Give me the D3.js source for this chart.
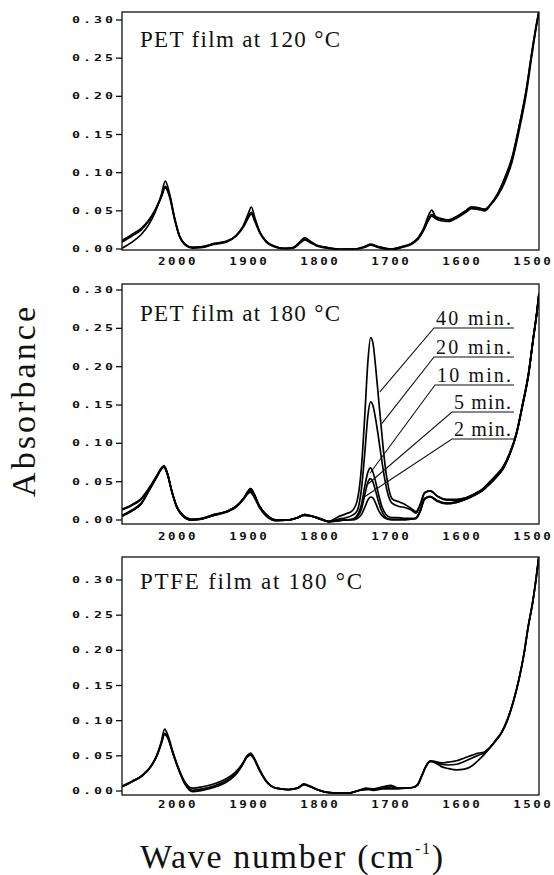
<!DOCTYPE html>
<html lang="en">
<head>
<meta charset="UTF-8" />
<title>IR absorbance of heated films</title>
<style>
  html, body {
    margin: 0;
    padding: 0;
    background: #fff;
  }
  svg { display: block; }
  .frame { fill: none; stroke: #111; stroke-width: 1.3px; }
  .spec { fill: none; stroke: #000; stroke-width: 1.7px; stroke-linejoin: round; }
  .tick line { stroke: #111; stroke-width: 1.3px; }
  .tick text {
    font-family: "DejaVu Sans Mono", monospace;
    font-weight: bold;
    fill: #111;
  }
  .title, .tag, .axis-title {
    font-family: "Liberation Serif", "Times New Roman", serif;
    fill: #111;
  }
  .leader { stroke: #111; stroke-width: 1.1px; fill: none; }
</style>
</head>
<body>
<svg width="554" height="875"></svg>

<script src="https://d3js.org/d3.v7.min.js"></script>
<script>
// ---- data ----
const WN_TICKS = [2000, 1900, 1800, 1700, 1600, 1500];
const ABS_TICKS = [0, 0.05, 0.10, 0.15, 0.20, 0.25, 0.30];

// PET film at 120 °C
const P1_WN = [2079, 2065, 2052, 2042, 2032, 2024, 2018, 2012, 2005, 1998, 1990, 1980, 1965, 1950, 1932, 1918, 1908, 1901, 1897, 1892, 1885, 1876, 1865, 1850, 1838, 1828, 1822, 1815, 1805, 1790, 1770, 1750, 1738, 1729, 1718, 1700, 1685, 1672, 1662, 1654, 1648, 1643, 1638, 1630, 1620, 1607, 1595, 1587, 1578, 1568, 1560, 1550, 1540, 1530, 1520, 1510, 1502, 1496, 1492];
const P1_A = [0.011, 0.019, 0.027, 0.037, 0.052, 0.068, 0.082, 0.070, 0.040, 0.017, 0.006, 0.002, 0.003, 0.007, 0.010, 0.018, 0.030, 0.043, 0.048, 0.038, 0.022, 0.010, 0.004, 0.001, 0.002, 0.009, 0.013, 0.010, 0.005, 0.002, 0.000, 0.000, 0.003, 0.006, 0.003, 0.000, 0.003, 0.007, 0.014, 0.026, 0.038, 0.045, 0.042, 0.039, 0.038, 0.043, 0.050, 0.055, 0.054, 0.052, 0.059, 0.072, 0.092, 0.118, 0.160, 0.208, 0.258, 0.292, 0.312];
const P1_B = [0.009, 0.017, 0.025, 0.036, 0.051, 0.067, 0.080, 0.068, 0.039, 0.016, 0.005, 0.001, 0.002, 0.006, 0.009, 0.017, 0.029, 0.041, 0.046, 0.036, 0.021, 0.009, 0.003, 0.000, 0.001, 0.008, 0.012, 0.009, 0.004, 0.001, -0.001, 0.000, 0.002, 0.005, 0.002, -0.001, 0.002, 0.006, 0.013, 0.025, 0.037, 0.043, 0.040, 0.037, 0.036, 0.041, 0.048, 0.053, 0.052, 0.050, 0.058, 0.073, 0.094, 0.120, 0.161, 0.208, 0.258, 0.292, 0.312];
const P1_C = [0.001, 0.009, 0.019, 0.031, 0.049, 0.070, 0.089, 0.072, 0.041, 0.017, 0.006, 0.002, 0.003, 0.007, 0.010, 0.018, 0.031, 0.047, 0.055, 0.041, 0.022, 0.010, 0.004, 0.001, 0.002, 0.010, 0.015, 0.011, 0.005, 0.002, 0.000, 0.000, 0.003, 0.006, 0.003, 0.000, 0.003, 0.007, 0.015, 0.028, 0.043, 0.051, 0.043, 0.040, 0.038, 0.043, 0.050, 0.055, 0.054, 0.052, 0.058, 0.070, 0.088, 0.114, 0.155, 0.203, 0.254, 0.290, 0.310];

// PET film at 180 °C, one spectrum per heating time
const P2_WN = [2079, 2065, 2052, 2040, 2030, 2024, 2020, 2015, 2009, 2002, 1993, 1982, 1968, 1950, 1932, 1918, 1908, 1902, 1898, 1893, 1886, 1876, 1862, 1845, 1832, 1822, 1812, 1800, 1788, 1775, 1764, 1755, 1748, 1742, 1737, 1733, 1729, 1726, 1722, 1718, 1714, 1710, 1705, 1699, 1690, 1680, 1672, 1665, 1659, 1653, 1645, 1635, 1622, 1608, 1595, 1583, 1572, 1562, 1552, 1543, 1533, 1524, 1515, 1507, 1500, 1495, 1492];
const P2_40 = [0.014, 0.020, 0.028, 0.043, 0.058, 0.067, 0.070, 0.060, 0.038, 0.018, 0.006, 0.001, 0.002, 0.007, 0.011, 0.018, 0.028, 0.036, 0.039, 0.032, 0.019, 0.007, 0.000, 0.000, 0.003, 0.007, 0.005, 0.002, -0.002, 0.004, 0.008,
  0.012, 0.025, 0.068, 0.140, 0.205, 0.238, 0.232, 0.200, 0.160, 0.120, 0.082, 0.048, 0.028, 0.024, 0.020, 0.015, 0.011,
  0.021, 0.036, 0.038, 0.031, 0.027, 0.027, 0.029, 0.034, 0.040, 0.049, 0.059, 0.069, 0.088, 0.113, 0.152, 0.190, 0.238, 0.270, 0.295];
const P2_20 = [0.013, 0.019, 0.027, 0.042, 0.057, 0.066, 0.069, 0.059, 0.037, 0.017, 0.005, 0.000, 0.001, 0.006, 0.010, 0.017, 0.027, 0.035, 0.038, 0.031, 0.018, 0.006, -0.001, 0.000, 0.003, 0.006, 0.005, 0.001, -0.002, 0.001, 0.003,
  0.006, 0.012, 0.040, 0.090, 0.135, 0.154, 0.150, 0.132, 0.108, 0.082, 0.058, 0.035, 0.022, 0.018, 0.016, 0.013, 0.009,
  0.020, 0.035, 0.038, 0.031, 0.026, 0.026, 0.029, 0.034, 0.040, 0.049, 0.058, 0.068, 0.087, 0.112, 0.151, 0.189, 0.237, 0.270, 0.294];
const P2_10 = [0.006, 0.013, 0.022, 0.040, 0.056, 0.066, 0.070, 0.060, 0.038, 0.018, 0.006, 0.001, 0.002, 0.007, 0.011, 0.018, 0.027, 0.034, 0.036, 0.030, 0.017, 0.005, -0.001, 0.000, 0.003, 0.007, 0.005, 0.002, -0.002, -0.001, 0.000,
  0.001, 0.006, 0.020, 0.045, 0.062, 0.068, 0.063, 0.050, 0.034, 0.020, 0.011, 0.005, 0.003, 0.003, 0.002, 0.002, 0.003,
  0.013, 0.028, 0.031, 0.025, 0.022, 0.024, 0.028, 0.033, 0.039, 0.048, 0.057, 0.067, 0.087, 0.112, 0.151, 0.189, 0.238, 0.271, 0.295];
const P2_5 = [0.005, 0.012, 0.021, 0.040, 0.057, 0.067, 0.070, 0.060, 0.038, 0.017, 0.005, 0.000, 0.001, 0.006, 0.011, 0.018, 0.028, 0.037, 0.041, 0.034, 0.019, 0.007, 0.000, 0.000, 0.003, 0.007, 0.005, 0.001, -0.002, -0.001, 0.000,
  0.001, 0.004, 0.014, 0.034, 0.049, 0.054, 0.050, 0.038, 0.024, 0.013, 0.006, 0.002, 0.001, 0.001, 0.001, 0.001, 0.002,
  0.012, 0.028, 0.030, 0.025, 0.022, 0.023, 0.027, 0.033, 0.038, 0.047, 0.056, 0.066, 0.086, 0.111, 0.150, 0.188, 0.237, 0.271, 0.296];
const P2_2 = [0.005, 0.012, 0.021, 0.041, 0.057, 0.067, 0.071, 0.061, 0.038, 0.017, 0.005, 0.000, 0.001, 0.006, 0.011, 0.018, 0.028, 0.037, 0.041, 0.034, 0.019, 0.007, 0.000, 0.000, 0.003, 0.006, 0.005, 0.001, -0.002, -0.001, 0.000,
  0.000, 0.002, 0.007, 0.017, 0.026, 0.030, 0.029, 0.022, 0.013, 0.007, 0.003, 0.001, 0.000, 0.000, 0.000, 0.001, 0.002,
  0.012, 0.027, 0.030, 0.024, 0.021, 0.023, 0.027, 0.032, 0.038, 0.046, 0.056, 0.066, 0.086, 0.111, 0.150, 0.188, 0.237, 0.272, 0.296];
const P2_TIMES = ["40 min.", "20 min.", "10 min.", "5 min.", "2 min."];
// where each time label points: wave number and absorbance on its curve
const LEADER_WN = [1716, 1713, 1730, 1734, 1738];
const LEADER_ABS = [0.167, 0.126, 0.061, 0.046, 0.030];

// PTFE film at 180 °C
const P3_WN = [2079, 2065, 2050, 2038, 2030, 2024, 2019, 2014, 2008, 2000, 1990, 1980, 1966, 1950, 1935, 1920, 1910, 1903, 1898, 1893, 1886, 1877, 1862, 1845, 1832, 1823, 1814, 1804, 1790, 1775, 1760, 1745, 1735, 1725, 1712, 1700, 1690, 1680, 1670, 1663, 1657, 1651, 1645, 1638, 1630, 1620, 1608, 1597, 1586, 1577, 1570, 1562, 1553, 1545, 1537, 1528, 1520, 1513, 1507, 1501, 1496, 1492];
const P3_A = [0.006, 0.013, 0.023, 0.036, 0.051, 0.069, 0.088, 0.078, 0.058, 0.034, 0.012, 0.004, 0.006, 0.010, 0.016, 0.026, 0.038, 0.050, 0.054, 0.047, 0.032, 0.016, 0.004, 0.002, 0.004, 0.010, 0.007, 0.002, -0.002, -0.003, -0.003, 0.001, 0.004, 0.003, 0.006, 0.008, 0.004, 0.004, 0.005, 0.009, 0.022, 0.036, 0.043, 0.042, 0.040, 0.041, 0.043, 0.047, 0.051, 0.054, 0.055, 0.061, 0.072, 0.083, 0.100, 0.128, 0.160, 0.196, 0.235, 0.268, 0.303, 0.335];
const P3_B = [0.006, 0.013, 0.022, 0.035, 0.050, 0.067, 0.082, 0.075, 0.056, 0.033, 0.010, 0.001, 0.003, 0.007, 0.013, 0.024, 0.037, 0.049, 0.052, 0.046, 0.031, 0.015, 0.004, 0.002, 0.004, 0.009, 0.006, 0.002, -0.002, -0.003, -0.003, 0.001, 0.002, 0.003, 0.004, 0.006, 0.004, 0.004, 0.005, 0.009, 0.022, 0.035, 0.042, 0.041, 0.038, 0.037, 0.038, 0.042, 0.047, 0.051, 0.054, 0.061, 0.072, 0.083, 0.100, 0.128, 0.160, 0.196, 0.235, 0.268, 0.303, 0.335];
const P3_C = [0.007, 0.014, 0.022, 0.035, 0.050, 0.066, 0.080, 0.074, 0.055, 0.032, 0.009, -0.001, 0.001, 0.005, 0.011, 0.022, 0.036, 0.048, 0.051, 0.045, 0.030, 0.015, 0.004, 0.002, 0.004, 0.009, 0.006, 0.002, -0.002, -0.003, -0.003, 0.001, 0.003, 0.001, 0.003, 0.003, 0.003, 0.004, 0.005, 0.008, 0.021, 0.035, 0.042, 0.040, 0.035, 0.032, 0.030, 0.031, 0.036, 0.044, 0.051, 0.060, 0.071, 0.082, 0.099, 0.127, 0.159, 0.195, 0.234, 0.267, 0.302, 0.335];

// ---- layout ----
const svg = d3.select("svg");
const left = 122, right = 539;

const x = d3.scaleLinear().domain([2079, 1492]).range([left, right]);

const panels = [
  { id: "p1", wn: P1_WN, series: [P1_A, P1_B, P1_C], title: "PET film at 120 °C", titleLen: 200,
    top: 12, bottom: 250, yRange: [249, 20], titleY: 47, labelGap: 11 },
  { id: "p2", wn: P2_WN, series: [P2_40, P2_20, P2_10, P2_5, P2_2], title: "PET film at 180 °C", titleLen: 200,
    top: 284, bottom: 524, yRange: [520, 290], titleY: 321, labelGap: 12 },
  { id: "p3", wn: P3_WN, series: [P3_A, P3_B, P3_C], title: "PTFE film at 180  °C", titleLen: 222,
    top: 557, bottom: 795, yRange: [791, 580], titleY: 589, labelGap: 9 }
];

const fmt = d3.format(".2f");

panels.forEach(p => {
  const y = d3.scaleLinear().domain([0, 0.30]).range(p.yRange);
  p.y = y;
  const g = svg.append("g");

  g.append("clipPath").attr("id", "clip-" + p.id)
    .append("rect")
    .attr("x", left).attr("y", p.top)
    .attr("width", right - left).attr("height", p.bottom - p.top);

  const line = d3.line()
    .x(d => x(d[0]))
    .y(d => y(d[1]))
    .curve(d3.curveMonotoneX);

  g.append("g").attr("clip-path", `url(#clip-${p.id})`)
    .selectAll("path")
    .data(p.series)
    .join("path")
    .attr("class", "spec")
    .attr("d", s => line(p.wn.map((w, i) => [w, s[i]])));

  g.append("rect").attr("class", "frame")
    .attr("x", left).attr("y", p.top)
    .attr("width", right - left).attr("height", p.bottom - p.top);

  // y ticks
  const yt = g.selectAll(".ytick").data(ABS_TICKS).join("g")
    .attr("class", "tick ytick")
    .attr("transform", d => `translate(0,${y(d)})`);
  yt.append("line").attr("x1", left - 6).attr("x2", left);
  yt.append("text")
    .attr("x", left - 6)
    .attr("text-anchor", "end")
    .attr("dominant-baseline", "central")
    .attr("font-size", 9)
    .attr("letter-spacing", 2)
    .attr("textLength", 44)
    .attr("lengthAdjust", "spacingAndGlyphs")
    .text(d => fmt(d));

  // x tick labels
  g.selectAll(".xtick").data(WN_TICKS).join("g")
    .attr("class", "tick xtick")
    .attr("transform", d => `translate(${x(d)},${p.bottom + p.labelGap})`)
    .append("text")
    .attr("text-anchor", "middle")
    .attr("dominant-baseline", "central")
    .attr("font-size", 10)
    .attr("letter-spacing", 2)
    .attr("textLength", 40)
    .attr("lengthAdjust", "spacingAndGlyphs")
    .text(d => d);

  g.append("text").attr("class", "title")
    .attr("x", 140).attr("y", p.titleY)
    .attr("font-size", 23)
    .attr("textLength", p.titleLen)
    .attr("lengthAdjust", "spacing")
    .text(p.title);
});

// time labels with leader lines in the middle panel
const p2 = panels[1];
const tagBase = [325, 354, 382, 409, 436];
const tagLen = [75, 75, 74, 57, 57];
const tagRight = 511;
P2_TIMES.forEach((t, i) => {
  const tx = tagRight - tagLen[i];
  svg.append("text").attr("class", "tag")
    .attr("x", tagRight).attr("y", tagBase[i])
    .attr("text-anchor", "end")
    .attr("font-size", 20)
    .attr("textLength", tagLen[i])
    .attr("lengthAdjust", "spacing")
    .text(t);
  const uy = tagBase[i] + 3;
  svg.append("path").attr("class", "leader")
    .attr("d", d3.line()([
      [x(LEADER_WN[i]), p2.y(LEADER_ABS[i])],
      [tx - 2, uy],
      [tagRight + 3, uy]
    ]));
});

// axis titles
svg.append("text").attr("class", "axis-title")
  .attr("transform", "translate(35,402) rotate(-90)")
  .attr("text-anchor", "middle")
  .attr("font-size", 34)
  .attr("textLength", 190)
  .attr("lengthAdjust", "spacing")
  .text("Absorbance");

const xt = svg.append("text").attr("class", "axis-title")
  .attr("x", 140).attr("y", 868)
  .attr("font-size", 34)
  .attr("textLength", 303)
  .attr("lengthAdjust", "spacing");
xt.append("tspan").text("Wave number (cm");
xt.append("tspan").attr("font-size", 16).attr("dy", -14).text("-1");
xt.append("tspan").attr("dy", 14).text(")");
</script>
</body>
</html>
